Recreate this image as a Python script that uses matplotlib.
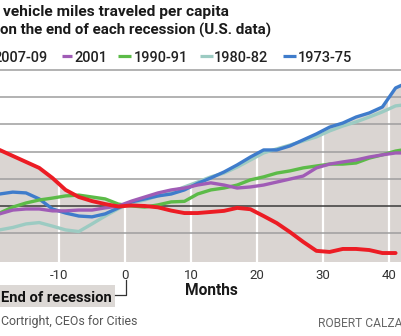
import numpy as np
import matplotlib
matplotlib.use("Agg")
import matplotlib.pyplot as plt
from matplotlib.lines import Line2D
from matplotlib.patches import Rectangle

# --- Data: % change in vehicle miles per capita, months from end of recession ---
months = [-19, -17, -15, -13, -11, -9, -7, -5, -3, -1,
          1, 3, 5, 7, 9, 11, 13, 15, 17, 19, 21, 23, 25, 27, 29, 31,
          33, 35, 37, 39, 41, 42]

r2007 = [2.06, 1.84, 1.62, 1.40, 1.03, 0.59, 0.33, 0.18, 0.07, -0.02,
         0.02, 0.00, -0.05, -0.17, -0.26, -0.26, -0.22, -0.18, -0.07, -0.12,
         -0.37, -0.63, -0.96, -1.32, -1.65, -1.69, -1.58, -1.58, -1.62,
         -1.73, -1.73, np.nan]
r2001 = [-0.29, -0.15, -0.11, -0.11, -0.18, -0.18, -0.15, -0.15, -0.07, 0.00,
         0.18, 0.33, 0.48, 0.59, 0.66, 0.77, 0.85, 0.77, 0.66, 0.70,
         0.77, 0.88, 0.99, 1.10, 1.40, 1.54, 1.62, 1.69, 1.80, 1.88, 1.95, 1.95]
r1990 = [-0.26, -0.04, 0.11, 0.22, 0.29, 0.37, 0.40, 0.33, 0.26, 0.07,
         0.00, -0.04, 0.04, 0.15, 0.17, 0.44, 0.59, 0.66, 0.77, 0.96,
         1.07, 1.21, 1.29, 1.40, 1.47, 1.54, 1.54, 1.58, 1.76, 1.88, 2.02, 2.06]
r1980 = [-0.88, -0.79, -0.66, -0.61, -0.74, -0.88, -0.94, -0.66, -0.37, -0.10,
         0.11, 0.22, 0.37, 0.51, 0.70, 0.88, 1.07, 1.21, 1.43, 1.69,
         1.95, 2.10, 2.24, 2.39, 2.54, 2.76, 2.94, 3.09, 3.27, 3.46, 3.68, 3.71]
r1973 = [0.44, 0.51, 0.48, 0.26, -0.11, -0.26, -0.37, -0.40, -0.29, -0.07,
         0.15, 0.26, 0.37, 0.44, 0.59, 0.83, 1.03, 1.25, 1.51, 1.80,
         2.06, 2.06, 2.21, 2.43, 2.65, 2.90, 3.05, 3.27, 3.42, 3.64, 4.34, 4.45]

labels = ["2007-09", "2001", "1990-91", "1980-82", "1973-75"]
colors = ["#ec1c24", "#a05cb6", "#5cbb48", "#9ccbc2", "#3f7ccb"]
xticks = [-10, 0, 10, 20, 30, 40]
grid_levels = [-1, 1, 2, 3, 4, 5]

BOLD = ["Roboto", "DejaVu Sans"]
PLAIN = ["Roboto", "DejaVu Sans"]

W, H = 402, 336
fig = plt.figure(figsize=(W / 100, H / 100), dpi=100)
renderer = fig.canvas.get_renderer()


def fx(x):
    return x / W


def fy(y):
    return 1 - y / H


def place(x, y, s, width=None, size=12.0, **kw):
    # text at pixel position (baseline); optionally sized to a pixel width
    t = fig.text(fx(x), fy(y), s, fontsize=size, va="baseline", **kw)
    if width:
        w = t.get_window_extent(renderer).width
        t.set_fontsize(size * width / w)
    return t


# --- Plot area ---
ymin = -2.06
ax = fig.add_axes([0, fy(262), 1, fy(70) - fy(262)])
ax.set_xlim(-18.94, 41.97)
ax.set_ylim(ymin, 5.0)

series = [r2007, r2001, r1990, r1980, r1973]
envelope = np.nanmax(np.array(series, dtype=float), axis=0)
ax.fill_between(months, ymin, envelope, color="#dad5d2", lw=0, zorder=1)

for t in xticks:
    ax.axvline(t, color="white", lw=1.6, zorder=1.5)
for v in grid_levels:
    ax.axhline(v, color="#9e9e9e", lw=1.1, zorder=2, clip_on=False)
ax.axhline(0, color="#3a3a3a", lw=1.1, zorder=2)

# older recessions underneath, 2007-09 on top
for i in [3, 4, 2, 1]:
    ax.plot(months, series[i], color=colors[i], lw=2.4,
            solid_capstyle="round", solid_joinstyle="round", zorder=3)
ax.plot(months, r2007, color=colors[0], lw=2.8,
        solid_capstyle="round", solid_joinstyle="round", zorder=4)

ax.set_xticks(xticks)
ax.set_xticklabels([str(t) for t in xticks], family=PLAIN, fontsize=9.5,
                   color="#333333")
ax.tick_params(axis="x", length=0, pad=5)
ax.set_yticks([])
for s in ax.spines.values():
    s.set_visible(False)

# --- Title ---
place(3, 16, "vehicle miles traveled per capita", width=224,
      family=BOLD, weight="bold", color="#1a1a1a")
place(0, 35, "on the end of each recession (U.S. data)", width=271,
      family=BOLD, weight="bold", color="#1a1a1a")

# --- Legend row ---
ref = place(134, 62, "1990-91", width=54, family=PLAIN, weight="medium",
            color="#222222")
lsize = ref.get_fontsize()
place(48, 62, "2007-09", size=lsize, family=PLAIN, weight="medium",
      color="#222222", ha="right")
place(74, 62, "2001", size=lsize, family=PLAIN, weight="medium", color="#222222")
place(214, 62, "1980-82", size=lsize, family=PLAIN, weight="medium",
      color="#222222")
place(298, 62, "1973-75", size=lsize, family=PLAIN, weight="medium",
      color="#222222")

dashes = [(-16, -4), (62, 72), (118, 131), (200, 213), (283, 296)]
for (x0, x1), c in zip(dashes, colors):
    fig.add_artist(Line2D([fx(x0), fx(x1)], [fy(55.5), fy(55.5)],
                          transform=fig.transFigure, color=c, lw=2.3,
                          solid_capstyle="butt"))

# --- Axis annotations ---
place(185, 295, "Months", width=53, family=BOLD, weight="bold",
      color="#1a1a1a")

fig.add_artist(Rectangle((fx(0), fy(307)), fx(115), fy(285) - fy(307),
                         transform=fig.transFigure, color="#dcd8d5", lw=0))
place(1, 302, "End of recession", width=110, family=BOLD, weight="bold",
      color="#111111")
fig.add_artist(Line2D([fx(115), fx(126), fx(126)], [fy(295), fy(295), fy(280)],
                      transform=fig.transFigure, color="#333333", lw=0.9))

# --- Credits ---
place(1, 325, "Cortright, CEOs for Cities", width=136, family=PLAIN,
      color="#555555")
cred = place(318, 327, "ROBERT CALZA", width=84, family=PLAIN, color="#666666")
cred.set_text("ROBERT CALZADA")

fig.savefig("out.png", dpi=100)
